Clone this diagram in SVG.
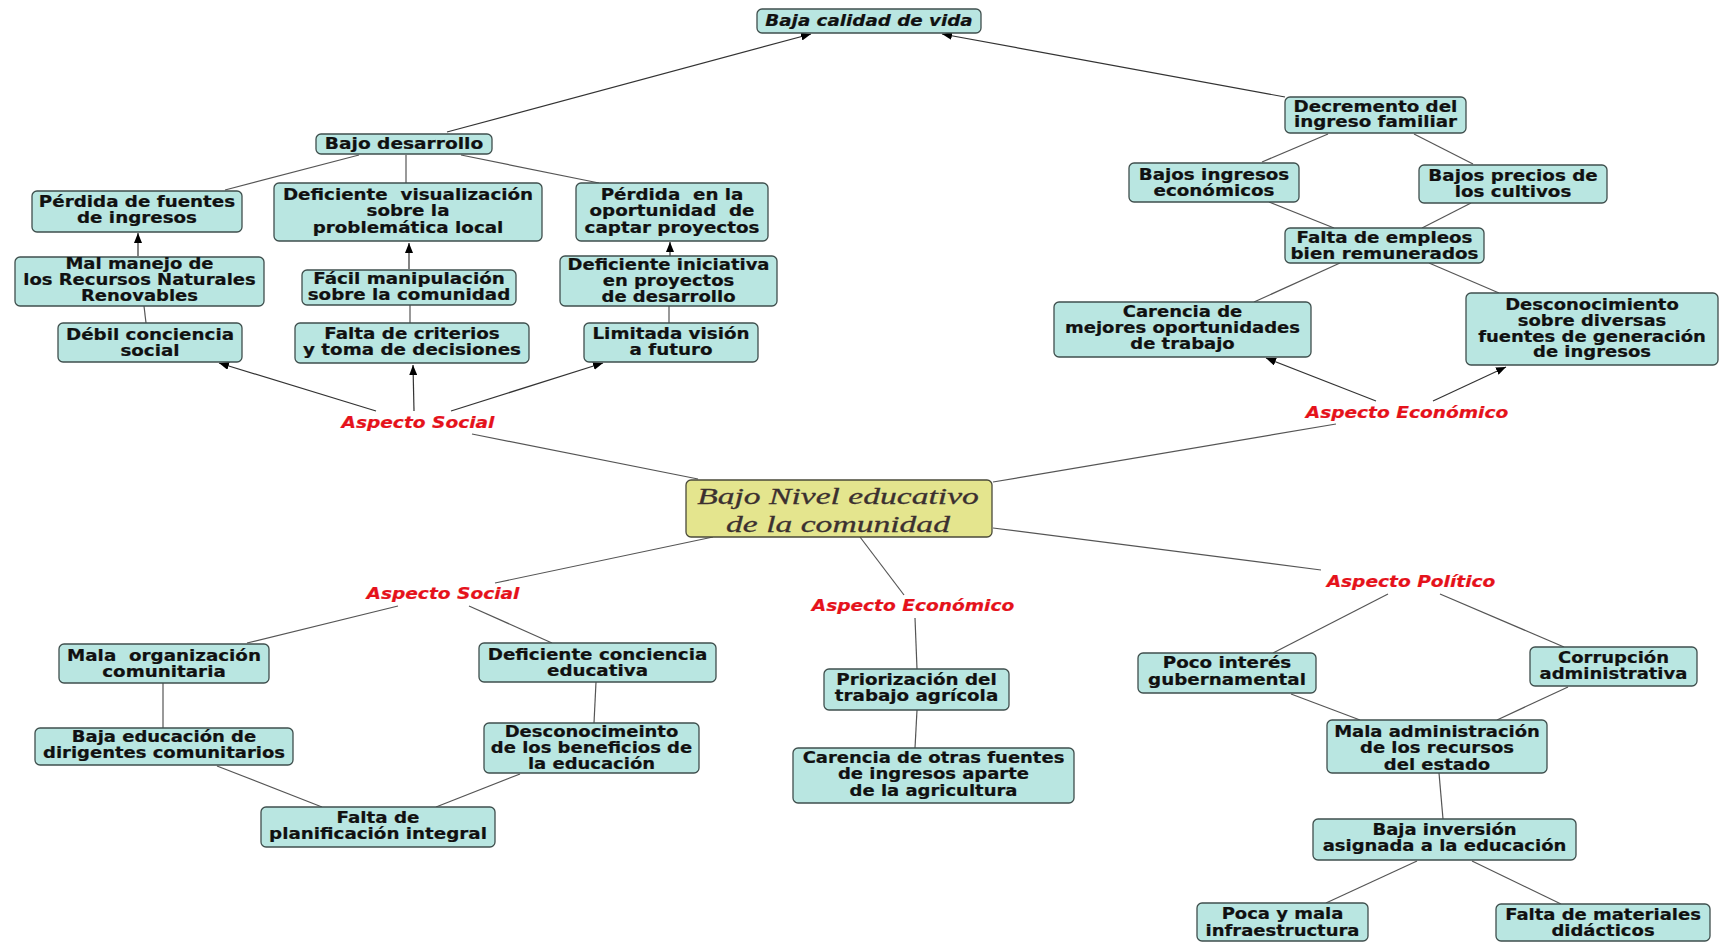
<svg xmlns="http://www.w3.org/2000/svg" width="1720" height="942" viewBox="0 0 1720 942">
<style>
  .box { fill: #b9e6e1; stroke: #3f4f4d; stroke-width: 1.3; }
  .core { fill: #e4e58e; stroke: #4a4a3a; stroke-width: 1.3; }
  .t { font-family: "DejaVu Sans", "Liberation Sans", sans-serif; font-weight: bold; font-size: 15px; fill: #111; stroke: #111; stroke-width: 0.2; text-anchor: middle; }
  .ti { font-style: italic; }
  .lab { font-family: "DejaVu Sans", "Liberation Sans", sans-serif; font-weight: bold; font-style: italic; font-size: 15.5px; fill: #e5121b; stroke: #e5121b; stroke-width: 0.2; text-anchor: middle; }
  .ctr { font-family: "Liberation Serif", "DejaVu Serif", serif; font-style: italic; font-size: 24px; fill: #3b3030; stroke: #3b3030; stroke-width: 0.3; text-anchor: middle; }
  .ln { stroke: #555; stroke-width: 1.2; fill: none; }
  .ar { stroke: #333; stroke-width: 1.2; fill: none; marker-end: url(#tip); }
</style>
<defs>
  <marker id="tip" markerUnits="userSpaceOnUse" markerWidth="10" markerHeight="8" refX="10" refY="4" orient="auto">
    <path d="M0,0 L10,4 L0,8 z" fill="#000"/>
  </marker>
</defs>
<rect width="1720" height="942" fill="#fff"/>

<g id="connectors">
  <!-- arrows -->
  <line class="ar" x1="447" y1="132" x2="811" y2="34"/>
  <line class="ar" x1="1285" y1="97" x2="942" y2="34"/>
  <line class="ar" x1="138" y1="256" x2="138" y2="233"/>
  <line class="ar" x1="409" y1="269" x2="409" y2="243"/>
  <line class="ar" x1="670" y1="256" x2="670" y2="242"/>
  <line class="ar" x1="376" y1="411" x2="219" y2="363"/>
  <line class="ar" x1="414" y1="411" x2="413" y2="365"/>
  <line class="ar" x1="451" y1="411" x2="603" y2="363"/>
  <line class="ar" x1="1376" y1="401" x2="1266" y2="358"/>
  <line class="ar" x1="1433" y1="401" x2="1506" y2="367"/>
  <!-- plain links -->
  <line class="ln" x1="359" y1="155" x2="225" y2="190"/>
  <line class="ln" x1="406" y1="155" x2="406" y2="183"/>
  <line class="ln" x1="461" y1="155" x2="599" y2="183"/>
  <line class="ln" x1="144" y1="306" x2="146" y2="323"/>
  <line class="ln" x1="410" y1="305" x2="410" y2="323"/>
  <line class="ln" x1="669" y1="306" x2="669" y2="323"/>
  <line class="ln" x1="698" y1="479" x2="472" y2="434"/>
  <line class="ln" x1="713" y1="537" x2="495" y2="583"/>
  <line class="ln" x1="993" y1="482" x2="1336" y2="424"/>
  <line class="ln" x1="993" y1="528" x2="1321" y2="570"/>
  <line class="ln" x1="860" y1="537" x2="904" y2="595"/>
  <line class="ln" x1="1328" y1="134" x2="1262" y2="162"/>
  <line class="ln" x1="1414" y1="134" x2="1473" y2="164"/>
  <line class="ln" x1="1269" y1="202" x2="1334" y2="228"/>
  <line class="ln" x1="1471" y1="203" x2="1422" y2="228"/>
  <line class="ln" x1="1340" y1="263" x2="1254" y2="302"/>
  <line class="ln" x1="1429" y1="263" x2="1499" y2="293"/>
  <line class="ln" x1="398" y1="606" x2="247" y2="643"/>
  <line class="ln" x1="469" y1="606" x2="552" y2="643"/>
  <line class="ln" x1="163" y1="683" x2="163" y2="728"/>
  <line class="ln" x1="596" y1="682" x2="594" y2="723"/>
  <line class="ln" x1="217" y1="766" x2="322" y2="807"/>
  <line class="ln" x1="520" y1="774" x2="436" y2="807"/>
  <line class="ln" x1="915" y1="618" x2="917" y2="669"/>
  <line class="ln" x1="917" y1="710" x2="915" y2="748"/>
  <line class="ln" x1="1388" y1="594" x2="1273" y2="653"/>
  <line class="ln" x1="1440" y1="594" x2="1564" y2="647"/>
  <line class="ln" x1="1291" y1="694" x2="1360" y2="720"/>
  <line class="ln" x1="1568" y1="687" x2="1497" y2="720"/>
  <line class="ln" x1="1439" y1="773" x2="1443" y2="819"/>
  <line class="ln" x1="1417" y1="861" x2="1326" y2="903"/>
  <line class="ln" x1="1472" y1="861" x2="1561" y2="904"/>
</g>

<g id="baja-calidad">
  <rect class="box" x="757" y="9" width="224" height="24" rx="5"/>
  <text class="t ti" transform="translate(869 0) scale(1.22 1)"><tspan x="0" y="26">Baja calidad de vida</tspan></text>
</g>
<g id="bajo-desarrollo">
  <rect class="box" x="316" y="134" width="176" height="20" rx="5"/>
  <text class="t" transform="translate(404 0) scale(1.24 1)"><tspan x="0" y="149">Bajo desarrollo</tspan></text>
</g>
<g id="perdida-fuentes">
  <rect class="box" x="32" y="191" width="210" height="41" rx="5"/>
  <text class="t" transform="translate(137 0) scale(1.22 1)"><tspan x="0" y="207">Pérdida de fuentes</tspan><tspan x="0" y="223">de ingresos</tspan></text>
</g>
<g id="deficiente-visualizacion">
  <rect class="box" x="274" y="183" width="268" height="58" rx="5"/>
  <text class="t" transform="translate(408 0) scale(1.22 1)"><tspan x="0" y="200">Deficiente&#160; visualización</tspan><tspan x="0" y="216">sobre la</tspan><tspan x="0" y="233">problemática local</tspan></text>
</g>
<g id="perdida-oportunidad">
  <rect class="box" x="576" y="183" width="192" height="58" rx="5"/>
  <text class="t" transform="translate(672 0) scale(1.22 1)"><tspan x="0" y="200">Pérdida&#160; en la</tspan><tspan x="0" y="216">oportunidad&#160; de</tspan><tspan x="0" y="233">captar proyectos</tspan></text>
</g>
<g id="mal-manejo">
  <rect class="box" x="15" y="257" width="249" height="49" rx="5"/>
  <text class="t" transform="translate(139.5 0) scale(1.2 1)"><tspan x="0" y="269">Mal manejo de</tspan><tspan x="0" y="285">los Recursos Naturales</tspan><tspan x="0" y="301">Renovables</tspan></text>
</g>
<g id="facil-manipulacion">
  <rect class="box" x="302" y="270" width="214" height="35" rx="5"/>
  <text class="t" transform="translate(409 0) scale(1.22 1)"><tspan x="0" y="284">Fácil manipulación</tspan><tspan x="0" y="300">sobre la comunidad</tspan></text>
</g>
<g id="deficiente-iniciativa">
  <rect class="box" x="560" y="256" width="217" height="50" rx="5"/>
  <text class="t" transform="translate(668.5 0) scale(1.2 1)"><tspan x="0" y="270">Deficiente iniciativa</tspan><tspan x="0" y="286">en proyectos</tspan><tspan x="0" y="302">de desarrollo</tspan></text>
</g>
<g id="debil-conciencia">
  <rect class="box" x="58" y="323" width="184" height="39" rx="5"/>
  <text class="t" transform="translate(150 0) scale(1.22 1)"><tspan x="0" y="340">Débil conciencia</tspan><tspan x="0" y="356">social</tspan></text>
</g>
<g id="falta-criterios">
  <rect class="box" x="295" y="323" width="234" height="40" rx="5"/>
  <text class="t" transform="translate(412 0) scale(1.22 1)"><tspan x="0" y="339">Falta de criterios</tspan><tspan x="0" y="355">y toma de decisiones</tspan></text>
</g>
<g id="limitada-vision">
  <rect class="box" x="584" y="323" width="174" height="39" rx="5"/>
  <text class="t" transform="translate(671 0) scale(1.22 1)"><tspan x="0" y="339">Limitada visión</tspan><tspan x="0" y="355">a futuro</tspan></text>
</g>
<g id="aspecto-social-1">
  <text class="lab" transform="translate(418 0) scale(1.2 1)"><tspan x="0" y="428">Aspecto Social</tspan></text>
</g>

<g id="bajo-nivel-educativo">
  <rect class="core" x="686" y="480" width="306" height="57" rx="5"/>
  <text class="ctr" transform="translate(838 0) scale(1.4 1)"><tspan x="0" y="504">Bajo Nivel educativo</tspan><tspan x="0" y="532">de la comunidad</tspan></text>
</g>

<g id="aspecto-economico-1">
  <text class="lab" transform="translate(1407 0) scale(1.2 1)"><tspan x="0" y="418">Aspecto Económico</tspan></text>
</g>
<g id="carencia-mejores">
  <rect class="box" x="1054" y="302" width="257" height="55" rx="5"/>
  <text class="t" transform="translate(1182.5 0) scale(1.2 1)"><tspan x="0" y="317">Carencia de</tspan><tspan x="0" y="333">mejores oportunidades</tspan><tspan x="0" y="349">de trabajo</tspan></text>
</g>
<g id="desconocimiento-fuentes">
  <rect class="box" x="1466" y="293" width="252" height="72" rx="5"/>
  <text class="t" transform="translate(1592 0) scale(1.2 1)"><tspan x="0" y="310">Desconocimiento</tspan><tspan x="0" y="326">sobre diversas</tspan><tspan x="0" y="342">fuentes de generación</tspan><tspan x="0" y="357">de ingresos</tspan></text>
</g>
<g id="decremento-ingreso">
  <rect class="box" x="1285" y="97" width="181" height="36" rx="5"/>
  <text class="t" transform="translate(1375.5 0) scale(1.22 1)"><tspan x="0" y="112">Decremento del</tspan><tspan x="0" y="127">ingreso familiar</tspan></text>
</g>
<g id="bajos-ingresos">
  <rect class="box" x="1129" y="163" width="170" height="39" rx="5"/>
  <text class="t" transform="translate(1214 0) scale(1.22 1)"><tspan x="0" y="180">Bajos ingresos</tspan><tspan x="0" y="196">económicos</tspan></text>
</g>
<g id="bajos-precios">
  <rect class="box" x="1419" y="165" width="188" height="38" rx="5"/>
  <text class="t" transform="translate(1513 0) scale(1.22 1)"><tspan x="0" y="181">Bajos precios de</tspan><tspan x="0" y="197">los cultivos</tspan></text>
</g>
<g id="falta-empleos">
  <rect class="box" x="1285" y="228" width="199" height="35" rx="5"/>
  <text class="t" transform="translate(1384.5 0) scale(1.22 1)"><tspan x="0" y="243">Falta de empleos</tspan><tspan x="0" y="259">bien remunerados</tspan></text>
</g>

<g id="aspecto-social-2">
  <text class="lab" transform="translate(443 0) scale(1.2 1)"><tspan x="0" y="599">Aspecto Social</tspan></text>
</g>
<g id="mala-organizacion">
  <rect class="box" x="59" y="644" width="210" height="39" rx="5"/>
  <text class="t" transform="translate(164 0) scale(1.22 1)"><tspan x="0" y="661">Mala&#160; organización</tspan><tspan x="0" y="677">comunitaria</tspan></text>
</g>
<g id="deficiente-conciencia">
  <rect class="box" x="479" y="643" width="237" height="39" rx="5"/>
  <text class="t" transform="translate(597.5 0) scale(1.22 1)"><tspan x="0" y="660">Deficiente conciencia</tspan><tspan x="0" y="676">educativa</tspan></text>
</g>
<g id="baja-educacion">
  <rect class="box" x="35" y="728" width="258" height="37" rx="5"/>
  <text class="t" transform="translate(164 0) scale(1.2 1)"><tspan x="0" y="742">Baja educación de</tspan><tspan x="0" y="758">dirigentes comunitarios</tspan></text>
</g>
<g id="desconocimeinto-beneficios">
  <rect class="box" x="484" y="723" width="215" height="50" rx="5"/>
  <text class="t" transform="translate(591.5 0) scale(1.2 1)"><tspan x="0" y="737">Desconocimeinto</tspan><tspan x="0" y="753">de los beneficios de</tspan><tspan x="0" y="769">la educación</tspan></text>
</g>
<g id="falta-planificacion">
  <rect class="box" x="261" y="807" width="234" height="40" rx="5"/>
  <text class="t" transform="translate(378 0) scale(1.22 1)"><tspan x="0" y="823">Falta de</tspan><tspan x="0" y="839">planificación integral</tspan></text>
</g>

<g id="aspecto-economico-2">
  <text class="lab" transform="translate(913 0) scale(1.2 1)"><tspan x="0" y="611">Aspecto Económico</tspan></text>
</g>
<g id="priorizacion">
  <rect class="box" x="824" y="669" width="185" height="41" rx="5"/>
  <text class="t" transform="translate(916.5 0) scale(1.22 1)"><tspan x="0" y="685">Priorización del</tspan><tspan x="0" y="701">trabajo agrícola</tspan></text>
</g>
<g id="carencia-otras">
  <rect class="box" x="793" y="748" width="281" height="55" rx="5"/>
  <text class="t" transform="translate(933.5 0) scale(1.2 1)"><tspan x="0" y="763">Carencia de otras fuentes</tspan><tspan x="0" y="779">de ingresos aparte</tspan><tspan x="0" y="796">de la agricultura</tspan></text>
</g>

<g id="aspecto-politico">
  <text class="lab" transform="translate(1411 0) scale(1.2 1)"><tspan x="0" y="587">Aspecto Político</tspan></text>
</g>
<g id="poco-interes">
  <rect class="box" x="1138" y="653" width="178" height="40" rx="5"/>
  <text class="t" transform="translate(1227 0) scale(1.22 1)"><tspan x="0" y="668">Poco interés</tspan><tspan x="0" y="685">gubernamental</tspan></text>
</g>
<g id="corrupcion">
  <rect class="box" x="1530" y="647" width="167" height="39" rx="5"/>
  <text class="t" transform="translate(1613.5 0) scale(1.2 1)"><tspan x="0" y="663">Corrupción</tspan><tspan x="0" y="679">administrativa</tspan></text>
</g>
<g id="mala-administracion">
  <rect class="box" x="1327" y="720" width="220" height="53" rx="5"/>
  <text class="t" transform="translate(1437 0) scale(1.2 1)"><tspan x="0" y="737">Mala administración</tspan><tspan x="0" y="753">de los recursos</tspan><tspan x="0" y="770">del estado</tspan></text>
</g>
<g id="baja-inversion">
  <rect class="box" x="1313" y="819" width="263" height="41" rx="5"/>
  <text class="t" transform="translate(1444.5 0) scale(1.2 1)"><tspan x="0" y="835">Baja inversión</tspan><tspan x="0" y="851">asignada a la educación</tspan></text>
</g>
<g id="poca-infraestructura">
  <rect class="box" x="1197" y="903" width="171" height="38" rx="5"/>
  <text class="t" transform="translate(1282.5 0) scale(1.2 1)"><tspan x="0" y="919">Poca y mala</tspan><tspan x="0" y="936">infraestructura</tspan></text>
</g>
<g id="falta-materiales">
  <rect class="box" x="1496" y="904" width="214" height="37" rx="5"/>
  <text class="t" transform="translate(1603 0) scale(1.2 1)"><tspan x="0" y="920">Falta de materiales</tspan><tspan x="0" y="936">didácticos</tspan></text>
</g>
</svg>
